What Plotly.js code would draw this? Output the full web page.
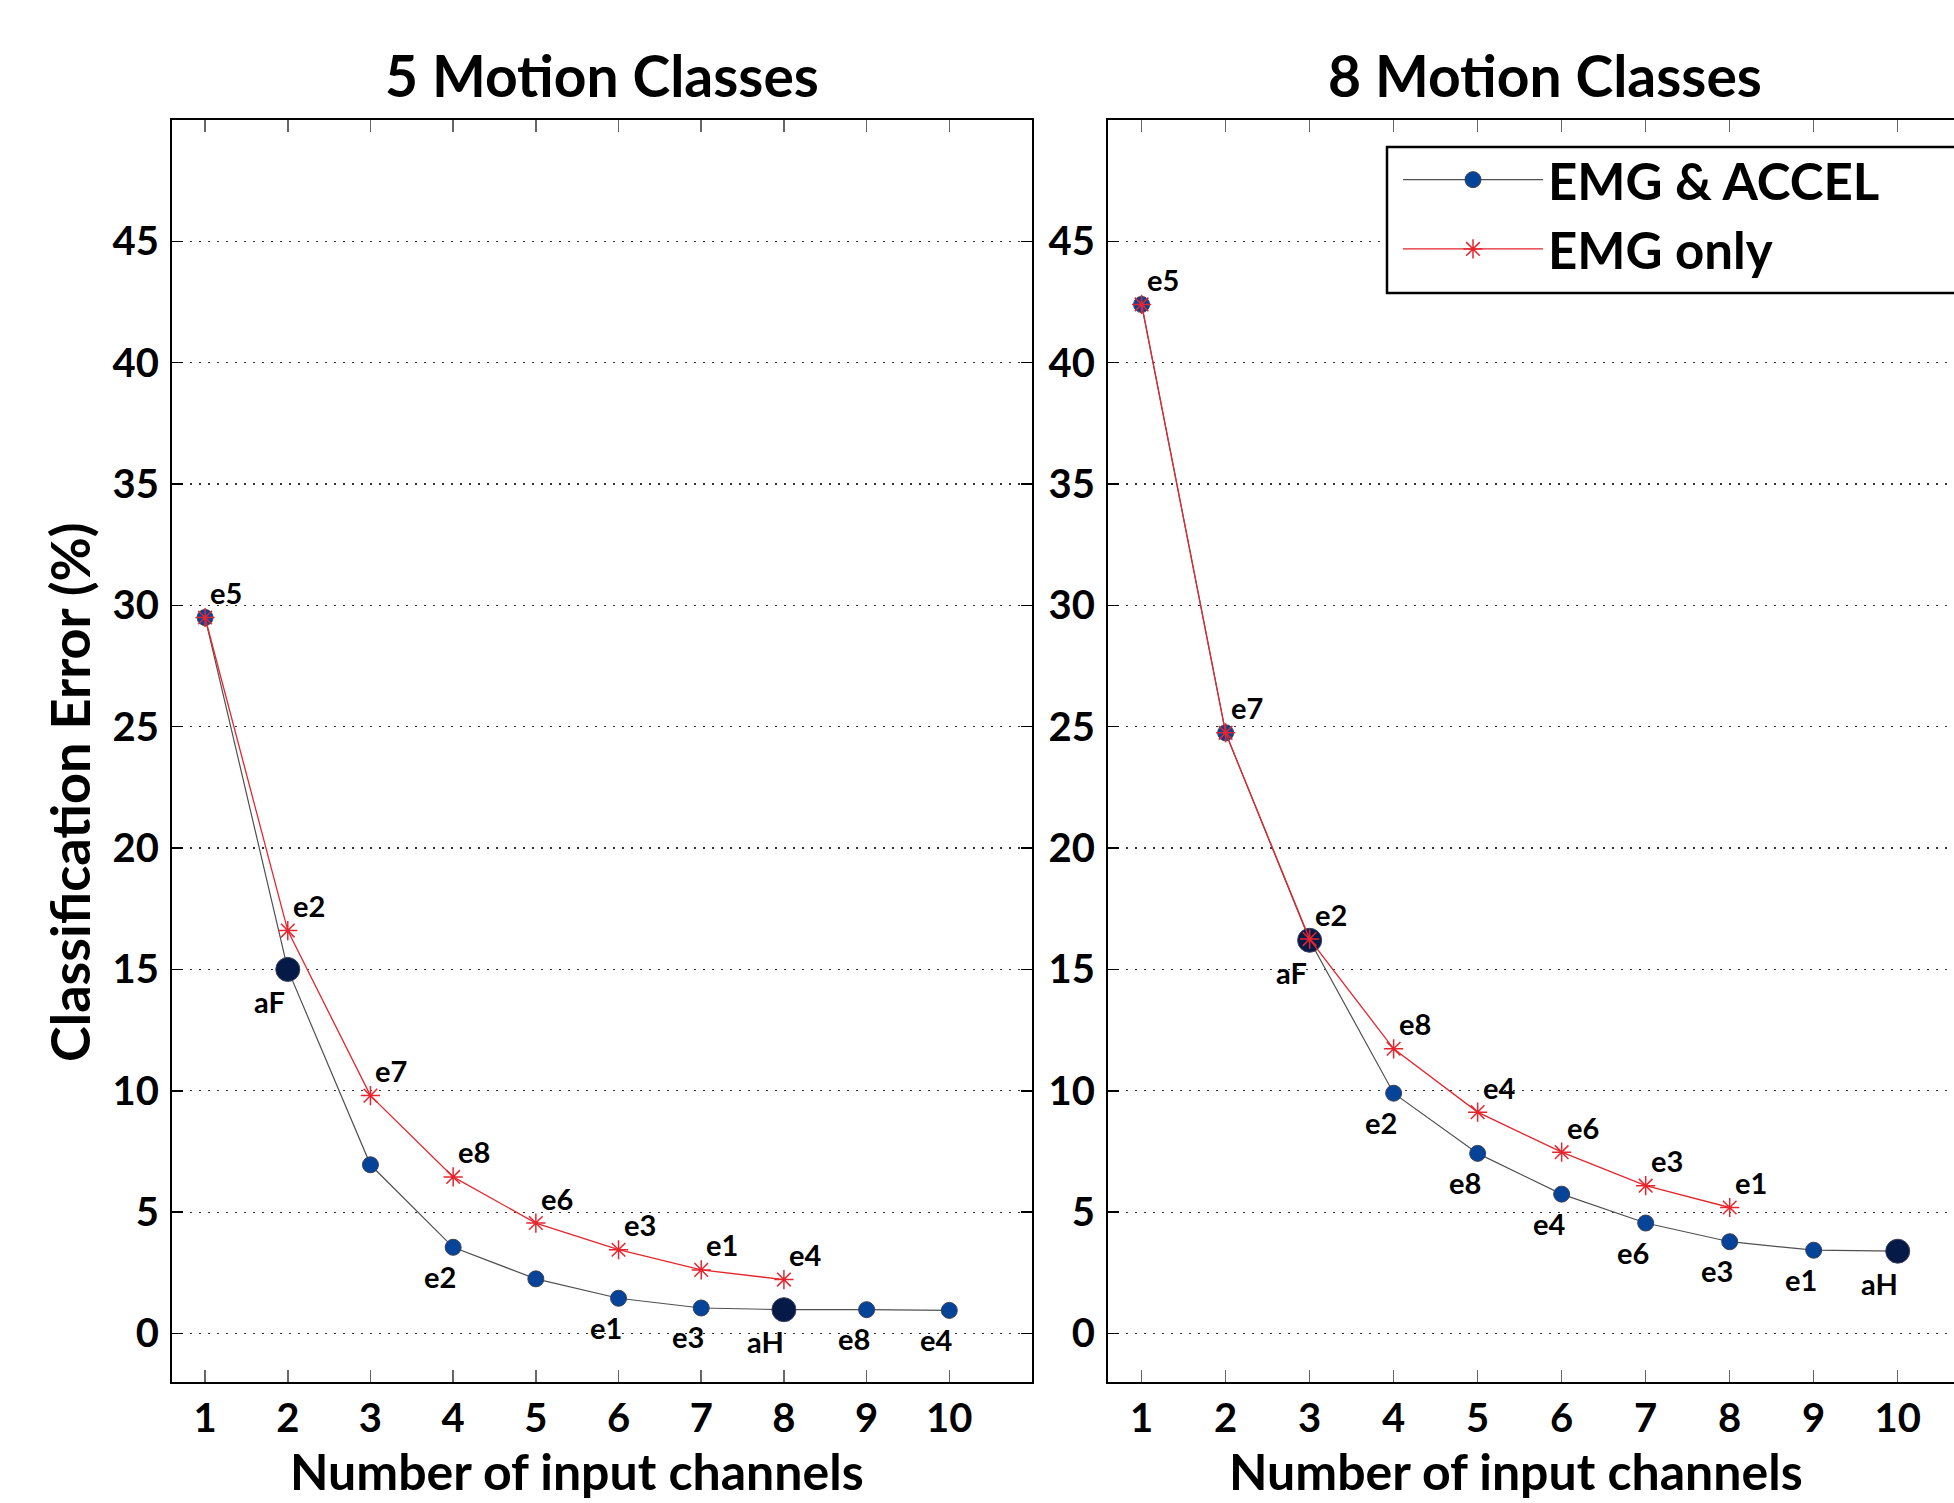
<!DOCTYPE html>
<html>
<head>
<meta charset="utf-8">
<script src="https://cdn.plot.ly/plotly-3.0.1.min.js"></script>
<style>html,body{margin:0;padding:0;background:#fff;}#chart{width:1954px;height:1503px;}</style>
</head>
<body>
<div id="chart"></div>
<script>
// ---- data ----
const channelsAxis = [1, 2, 3, 4, 5, 6, 7, 8, 9, 10];
const xTickLabels = ['1', '2', '3', '4', '5', '6', '7', '8', '9', '10'];
const yTickValues = [0, 5, 10, 15, 20, 25, 30, 35, 40, 45];

// 5 motion classes
const c5_emgAccel = [29.5, 15.0, 6.95, 3.55, 2.25, 1.45, 1.05, 0.98, 0.98, 0.95];
const c5_emgAccelCh = ['e5', 'aF', 'e7', 'e2', 'e6', 'e1', 'e3', 'aH', 'e8', 'e4'];
const c5_emgOnly = [29.5, 16.6, 9.8, 6.45, 4.55, 3.45, 2.62, 2.22];
const c5_emgOnlyCh = ['e5', 'e2', 'e7', 'e8', 'e6', 'e3', 'e1', 'e4'];

// 8 motion classes
const c8_emgAccel = [42.4, 24.75, 16.2, 9.9, 7.42, 5.74, 4.55, 3.78, 3.43, 3.39];
const c8_emgAccelCh = ['e5', 'e7', 'aF', 'e2', 'e8', 'e4', 'e6', 'e3', 'e1', 'aH'];
const c8_emgOnly = [42.4, 24.75, 16.25, 11.73, 9.12, 7.47, 6.09, 5.19];
const c8_emgOnlyCh = ['e5', 'e7', 'e2', 'e8', 'e4', 'e6', 'e3', 'e1'];

const panelTitles = ['5 Motion Classes', '8 Motion Classes'];
const seriesNames = ['EMG & ACCEL', 'EMG only'];
const xTitle = 'Number of input channels';
const yTitle = 'Classification Error (%)';

// ---- styling ----
const FONT = 'Lato, "Open Sans", sans-serif';
const BLUE = '#06449a';
const NAVY = '#061a48';
const RED = '#e5262e';
const labelFont = {family: FONT, size: 29, color: '#000', weight: 'bold'};

const isAccelCh = c => c.charAt(0) === 'a';

function blueTrace(vals, ch, xa, ya, showLegend) {
  const acc = ch.map(isAccelCh);
  return {
    type: 'scatter', mode: 'lines+markers', opacity: 1,
    x: channelsAxis.slice(0, vals.length), y: vals, xaxis: xa, yaxis: ya,
    name: seriesNames[0], showlegend: showLegend, legendgroup: 'a',
    text: ch,
    line: {color: '#505050', width: 1.2},
    marker: {
      symbol: 'circle', opacity: 1,
      size: acc.map(a => (a ? 24 : 16)),
      color: acc.map(a => (a ? NAVY : BLUE)),
      line: {color: '#3a3f55', width: 1}
    },
    cliponaxis: false, hoverinfo: 'x+y+text'
  };
}
function redTrace(vals, ch, xa, ya, showLegend) {
  return {
    type: 'scatter', mode: 'lines+markers', opacity: 1,
    x: channelsAxis.slice(0, vals.length), y: vals, xaxis: xa, yaxis: ya,
    name: seriesNames[1], showlegend: showLegend, legendgroup: 'b',
    text: ch,
    line: {color: RED, width: 1.3},
    marker: {symbol: 'asterisk-open', size: 16, color: RED, line: {color: RED, width: 1.5}},
    cliponaxis: false, hoverinfo: 'x+y+text'
  };
}

// channel labels: EMG-only labels above-right, EMG&ACCEL labels below-left
// (a shared point carrying the same channel is labelled once)
function pointLabels(accVals, accCh, emgVals, emgCh, xa, ya) {
  const out = [];
  emgCh.forEach((c, i) => out.push({
    text: c, x: channelsAxis[i], y: emgVals[i], xref: xa, yref: ya,
    xanchor: 'center', yanchor: 'middle', xshift: 21, yshift: 25,
    showarrow: false, font: labelFont
  }));
  accCh.forEach((c, i) => {
    if (emgCh[i] === c) return;
    const big = isAccelCh(c);
    out.push({
      text: c, x: channelsAxis[i], y: accVals[i], xref: xa, yref: ya,
      xanchor: 'center', yanchor: 'middle', xshift: big ? -18 : -13, yshift: big ? -32 : -29,
      showarrow: false, font: labelFont
    });
  });
  return out;
}

const data = [
  blueTrace(c5_emgAccel, c5_emgAccelCh, 'x', 'y', false),
  redTrace(c5_emgOnly, c5_emgOnlyCh, 'x', 'y', false),
  blueTrace(c8_emgAccel, c8_emgAccelCh, 'x2', 'y2', true),
  redTrace(c8_emgOnly, c8_emgOnlyCh, 'x2', 'y2', true)
];

const W = 1954, H = 1503;
const mL = 172, mR = 0, mT = 120, mB = 121;
const pw = W - mL - mR, ph = H - mT - mB;
const px = v => (v - mL) / pw;      // canvas px -> paper x
const py = v => 1 - (v - mT) / ph;  // canvas px -> paper y

const tickFont = {family: FONT, size: 40, color: '#000', weight: 'bold'};
const titleFont = {family: FONT, size: 57, color: '#000', weight: 'bold'};
const axisTitleFont = {family: FONT, size: 50, color: '#000', weight: 'bold'};

function xAxis(domain, range, anchor) {
  return {
    domain: domain, range: range, anchor: anchor,
    tickmode: 'array', tickvals: channelsAxis, ticktext: xTickLabels,
    ticks: 'inside', ticklen: 12, tickwidth: 1.5, tickcolor: '#666',
    showline: true, linecolor: '#000', linewidth: 2, mirror: 'ticks',
    showgrid: false, zeroline: false,
    tickfont: tickFont, ticklabelstandoff: 0
  };
}
function yAxis(anchor, mirror) {
  return {
    domain: [0, 1], range: [-2, 50], anchor: anchor,
    tickmode: 'array', tickvals: yTickValues,
    ticks: 'inside', ticklen: 11, tickwidth: 1.5, tickcolor: '#000',
    showline: true, linecolor: '#000', linewidth: 2, mirror: mirror,
    showgrid: true, gridcolor: '#333', gridwidth: 1.2, griddash: '2px,7px',
    zeroline: false,
    tickfont: tickFont, ticklabelstandoff: 3
  };
}

const paperText = (text, xPx, yPx, font, extra) => Object.assign({
  text: text, x: px(xPx), y: py(yPx), xref: 'paper', yref: 'paper',
  xanchor: 'center', yanchor: 'middle', showarrow: false, font: font
}, extra || {});

const layout = {
  width: W, height: H,
  margin: {l: mL, r: mR, t: mT, b: mB, pad: 0, autoexpand: false},
  paper_bgcolor: '#fff', plot_bgcolor: '#fff',
  font: {family: FONT, color: '#000'},
  showlegend: true,
  xaxis: xAxis([0, px(1032)], [0.6, 11], 'y'),
  yaxis: yAxis('x', 'ticks'),
  xaxis2: xAxis([px(1108), 1], [0.6, 10.67], 'y2'),
  yaxis2: yAxis('x2', false),
  legend: {
    x: px(1398), y: py(140), xanchor: 'left', yanchor: 'top',
    bgcolor: 'rgba(0,0,0,0)', borderwidth: 0,
    font: {family: FONT, size: 51, color: '#000', weight: 'bold'},
    itemwidth: 140, tracegroupgap: 0, itemsizing: 'trace'
  },
  // legend frame (runs past the right edge of the figure, as in the original)
  shapes: [
    {type: 'rect', xref: 'paper', yref: 'paper', layer: 'above',
     x0: px(1387), x1: px(2010), y0: py(147), y1: py(293),
     fillcolor: '#fff', line: {color: '#000', width: 2.5}}
  ],
  annotations: [
    paperText(panelTitles[0], 602, 75, titleFont),
    paperText(panelTitles[1], 1545, 75, titleFont),
    paperText(xTitle, 577, 1471, axisTitleFont),
    paperText(xTitle, 1516, 1471, axisTitleFont),
    paperText(yTitle, 69, 792, {family: FONT, size: 54, color: '#000', weight: 'bold'}, {textangle: -90})
  ].concat(
    pointLabels(c5_emgAccel, c5_emgAccelCh, c5_emgOnly, c5_emgOnlyCh, 'x', 'y'),
    pointLabels(c8_emgAccel, c8_emgAccelCh, c8_emgOnly, c8_emgOnlyCh, 'x2', 'y2')
  )
};

Plotly.newPlot('chart', data, layout, {displayModeBar: false, staticPlot: true});
</script>
</body>
</html>
